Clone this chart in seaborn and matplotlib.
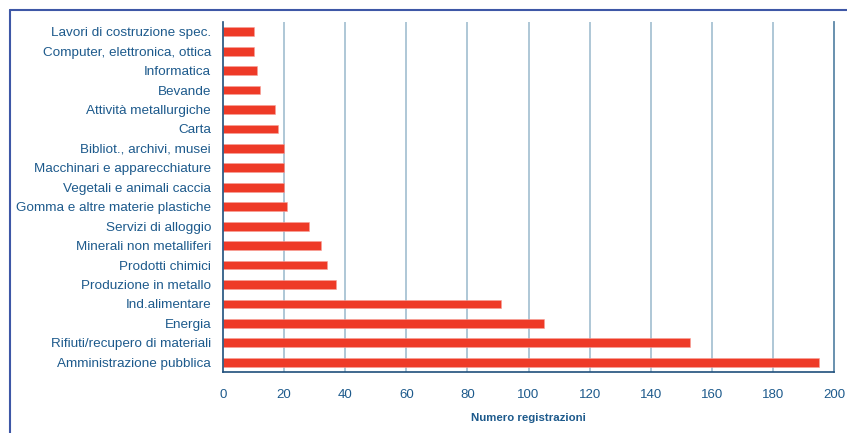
import matplotlib
matplotlib.use("Agg")
import matplotlib.pyplot as plt
from matplotlib.lines import Line2D
import seaborn as sns
import pandas as pd
import numpy as np

categories = [
    "Lavori di costruzione spec.",
    "Computer, elettronica, ottica",
    "Informatica",
    "Bevande",
    "Attività metallurgiche",
    "Carta",
    "Bibliot., archivi, musei",
    "Macchinari e apparecchiature",
    "Vegetali e animali caccia",
    "Gomma e altre materie plastiche",
    "Servizi di alloggio",
    "Minerali non metalliferi",
    "Prodotti chimici",
    "Produzione in metallo",
    "Ind.alimentare",
    "Energia",
    "Rifiuti/recupero di materiali",
    "Amministrazione pubblica",
]
registrazioni = [10, 10, 11, 12, 17, 18, 20, 20, 20, 21, 28, 32, 34, 37, 91, 105, 153, 195]
x_ticks = [0, 20, 40, 60, 80, 100, 120, 140, 160, 180, 200]

df = pd.DataFrame({"settore": categories, "n": registrazioni})

sns.set_style("white")
plt.rcParams["font.family"] = ["Liberation Sans", "DejaVu Sans"]

text_col = "#1d5a8c"
axis_col = "#1f4f7c"
grid_col = "#a8c3d3"
bar_col = "#ee3a27"
frame_col = "#3e57a6"

fig = plt.figure(figsize=(8.47, 4.33), dpi=100)
ax = fig.add_axes([223 / 847, 1 - 372 / 433, (834 - 223) / 847, (372 - 22) / 433])

sns.barplot(data=df, x="n", y="settore", order=categories, color=bar_col,
            width=0.45, saturation=1, ax=ax, edgecolor="#f7a199", linewidth=0.4)

ax.set_xlim(0, 200)
ax.set_ylim(len(categories) - 0.5, -0.5)
ax.set_xticks(x_ticks)
ax.set_xticklabels([str(t) for t in x_ticks])

# vertical grid lines
for t in x_ticks[1:-1]:
    ax.axvline(t, color=grid_col, lw=1.3, zorder=0)

# category separators as ticks on the left axis
ax.set_yticks(np.arange(len(categories)))
ax.set_yticklabels(categories)
ax.tick_params(axis="y", length=0, pad=8.6, labelsize=9.7, labelcolor=text_col)
ax.set_yticks(np.arange(len(categories) + 1) - 0.5, minor=True)
ax.tick_params(axis="y", which="minor", length=4, width=1, color="#6d8fab", direction="out")
ax.tick_params(axis="x", length=4, width=1, color="#6d8fab", direction="out",
               labelsize=9.5, labelcolor=text_col, pad=8)

for side in ["left", "bottom"]:
    ax.spines[side].set_color(axis_col)
    ax.spines[side].set_linewidth(1.2)
ax.spines["right"].set_color("#5d88a8")
ax.spines["right"].set_linewidth(1.3)
ax.spines["top"].set_visible(False)

ax.set_ylabel("")
ax.set_xlabel("Numero registrazioni", fontsize=8.2, fontweight="bold", color=text_col,
              labelpad=9)

# outer frame lines (top and left)
fig.add_artist(Line2D([10 / 847, 1], [1 - 10 / 433, 1 - 10 / 433],
                      transform=fig.transFigure, color=frame_col, lw=1.5))
fig.add_artist(Line2D([10 / 847, 10 / 847], [0, 1 - 10 / 433],
                      transform=fig.transFigure, color=frame_col, lw=1.5))

fig.savefig("out.png", dpi=100)
